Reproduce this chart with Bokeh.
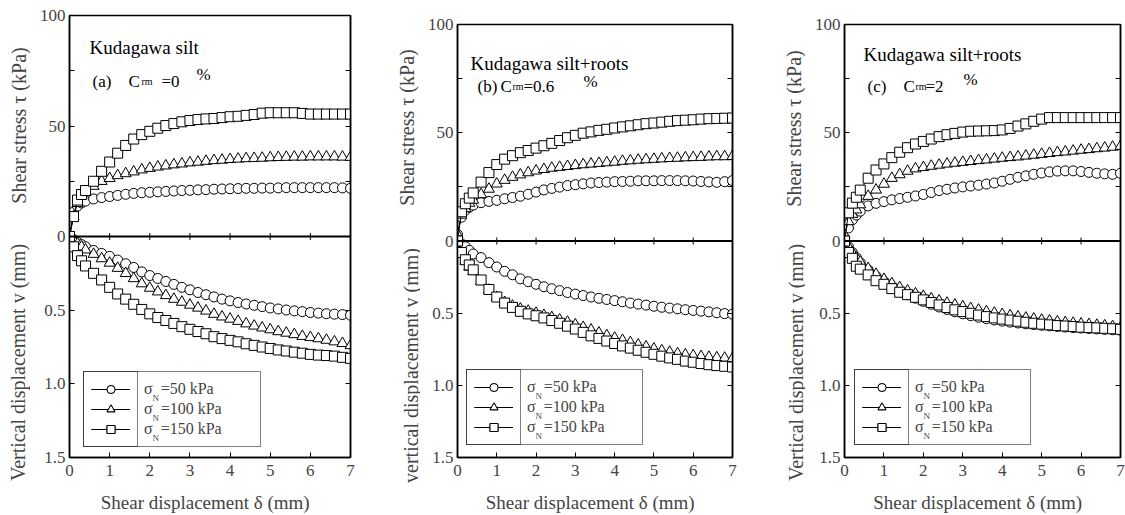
import math
from bokeh.plotting import figure
from bokeh.layouts import row
from bokeh.models import (Range1d, LinearAxis, FixedTicker, CustomJSTickFormatter,
                          Span, Label, Legend, LegendItem)
from bokeh.embed import file_html
from bokeh.resources import INLINE

# ---------------- data ----------------
DELTA = [0, 0.1, 0.2, 0.3, 0.4, 0.6, 0.8, 1.0, 1.2, 1.4, 1.6, 1.8, 2.0, 2.2, 2.4, 2.6, 2.8, 3.0,
         3.2, 3.4, 3.6, 3.8, 4.0, 4.2, 4.4, 4.6, 4.8, 5.0, 5.2, 5.4, 5.6, 5.8, 6.0, 6.2, 6.4, 6.6, 6.8, 7.0]

# (a) Kudagawa silt, Crm = 0 %
A_TAU_50 = [0, 11, 13.8, 15.2, 16, 17, 17.6, 18.1, 18.6, 19.1, 19.5, 19.8, 20, 20.2, 20.4, 20.6, 20.8, 20.9,
            21.1, 21.2, 21.4, 21.5, 21.6, 21.7, 21.8, 21.8, 21.9, 21.9, 22, 22.1, 22.1, 22.1, 22.1, 22.1, 22.1, 22.1, 22, 21.8]
A_TAU_100 = [0, 9, 15, 18.5, 20, 22.8, 25, 26.3, 27.6, 28.5, 29.3, 30.2, 30.9, 31.5, 32, 32.5, 32.9, 33.4,
             33.7, 34.1, 34.4, 34.6, 34.9, 35.1, 35.3, 35.4, 35.5, 35.7, 35.8, 35.9, 36, 36, 36.1, 36.1, 36.1, 36.1, 36, 35.9]
A_TAU_150 = [0, 9, 16.5, 19, 20.8, 25, 29.5, 33.7, 37.7, 41.2, 44.1, 46.1, 47.6, 49, 50.2, 51.1, 51.9, 52.5,
             52.9, 53.2, 53.4, 53.8, 54.2, 54.4, 54.8, 55.2, 55.8, 56, 56, 56, 56, 55.7, 55.4, 55.4, 55.4, 55.4, 55.4, 55.4]
A_V_50 = [0, 0.02, 0.04, 0.055, 0.07, 0.095, 0.115, 0.135, 0.16, 0.185, 0.21, 0.24, 0.265, 0.285, 0.305, 0.325, 0.345, 0.362,
          0.38, 0.395, 0.41, 0.425, 0.437, 0.448, 0.458, 0.467, 0.476, 0.485, 0.492, 0.499, 0.505, 0.51, 0.516, 0.52, 0.524, 0.527, 0.53, 0.534]
A_V_100 = [0, 0.025, 0.05, 0.07, 0.09, 0.12, 0.15, 0.18, 0.215, 0.25, 0.285, 0.32, 0.35, 0.375, 0.4, 0.425, 0.445, 0.465,
           0.485, 0.505, 0.527, 0.545, 0.56, 0.575, 0.592, 0.607, 0.62, 0.632, 0.645, 0.655, 0.665, 0.677, 0.685, 0.693, 0.703, 0.714, 0.725, 0.74]
A_V_150 = [0, 0.07, 0.13, 0.165, 0.2, 0.25, 0.295, 0.345, 0.39, 0.425, 0.46, 0.495, 0.525, 0.55, 0.57, 0.59, 0.612, 0.63,
           0.645, 0.66, 0.68, 0.693, 0.705, 0.715, 0.728, 0.739, 0.75, 0.76, 0.77, 0.777, 0.785, 0.792, 0.8, 0.805, 0.808, 0.812, 0.82, 0.827]

# (b) Kudagawa silt + roots, Crm = 0.6 %
B_TAU_50 = [3, 11, 14.2, 15.6, 16.6, 17.7, 18.3, 18.8, 19.5, 20.1, 20.7, 21.6, 22.6, 23.6, 24.3, 24.9, 25.6, 26,
            26.4, 26.8, 27, 27.2, 27.4, 27.5, 27.6, 27.8, 27.8, 27.8, 27.9, 27.9, 27.9, 27.8, 27.7, 27.5, 27.3, 27.1, 27.4, 27.9]
B_TAU_100 = [3, 12, 15, 17.5, 18.9, 21.5, 24, 26.4, 28.1, 29.5, 30.6, 31.6, 32.4, 33.1, 33.7, 34.1, 34.5, 34.9,
             35.3, 35.6, 35.9, 36.2, 36.5, 36.9, 37.1, 37.4, 37.6, 37.8, 38, 38.2, 38.3, 38.5, 38.6, 38.7, 38.9, 39, 39, 39.1]
B_TAU_150 = [0, 13.5, 17.2, 19.8, 22.2, 27.2, 31.6, 35.3, 37.8, 39.4, 40.8, 41.8, 42.9, 44, 45.1, 46.4, 47.7, 48.8,
             49.8, 50.4, 51.1, 51.6, 52.2, 52.7, 53.2, 53.7, 54.2, 54.5, 54.9, 55.3, 55.6, 55.8, 56, 56.3, 56.5, 56.6, 56.7, 56.8]
B_V_50 = [0, 0.02, 0.04, 0.065, 0.09, 0.115, 0.15, 0.18, 0.21, 0.234, 0.262, 0.282, 0.3, 0.317, 0.331, 0.344, 0.357, 0.368,
          0.378, 0.388, 0.397, 0.405, 0.413, 0.421, 0.43, 0.437, 0.444, 0.452, 0.459, 0.465, 0.47, 0.476, 0.481, 0.486, 0.491, 0.497, 0.503, 0.507]
B_V_100 = [0, 0.09, 0.14, 0.18, 0.21, 0.28, 0.34, 0.39, 0.425, 0.45, 0.47, 0.485, 0.5, 0.515, 0.53, 0.546, 0.562, 0.58,
           0.598, 0.616, 0.636, 0.655, 0.672, 0.688, 0.703, 0.72, 0.733, 0.747, 0.76, 0.77, 0.78, 0.788, 0.794, 0.8, 0.805, 0.808, 0.811, 0.814]
B_V_150 = [0, 0.08, 0.13, 0.166, 0.2, 0.27, 0.336, 0.388, 0.43, 0.46, 0.487, 0.505, 0.518, 0.533, 0.551, 0.57, 0.59, 0.61,
           0.633, 0.657, 0.675, 0.693, 0.71, 0.727, 0.742, 0.757, 0.771, 0.785, 0.798, 0.81, 0.82, 0.832, 0.84, 0.849, 0.857, 0.863, 0.868, 0.873]

# (c) Kudagawa silt + roots, Crm = 2 %
C_TAU_50 = [1.2, 6, 9.8, 12, 13.8, 16.2, 17.4, 18.2, 19, 19.6, 20.2, 20.8, 21.5, 22.4, 23.3, 23.9, 24.5, 25,
            25.4, 25.8, 26.3, 26.8, 27.6, 28.5, 29.4, 30.1, 30.8, 31.4, 31.9, 32.3, 32.4, 32.4, 32.1, 31.7, 31.3, 31, 30.8, 31.3]
C_TAU_100 = [2.8, 9, 12.4, 14.4, 16.8, 20.7, 23.6, 26.3, 29, 30.7, 32.3, 33.4, 34, 34.6, 35.1, 35.6, 36, 36.4,
             36.8, 37.2, 37.5, 37.9, 38.3, 38.6, 38.9, 39.3, 39.7, 40.1, 40.5, 40.9, 41.2, 41.6, 42, 42.3, 42.7, 43, 43.4, 43.8]
C_TAU_150 = [0, 13, 17.5, 20.2, 23.5, 29, 32.8, 35.6, 38.5, 41, 43.1, 44.8, 46, 47.1, 48.2, 49.1, 49.7, 50.3,
             50.7, 50.8, 50.9, 51, 51.3, 52, 53.1, 54.1, 55.3, 56.3, 57, 57, 57, 57, 57, 57, 57, 57, 57, 57]
C_V_50 = [0, 0.04, 0.08, 0.115, 0.15, 0.2, 0.245, 0.28, 0.315, 0.345, 0.372, 0.396, 0.418, 0.438, 0.457, 0.474, 0.49, 0.504,
          0.517, 0.528, 0.538, 0.547, 0.555, 0.562, 0.568, 0.574, 0.579, 0.584, 0.588, 0.592, 0.596, 0.6, 0.603, 0.606, 0.609, 0.612, 0.615, 0.618]
C_V_100 = [0, 0.04, 0.08, 0.115, 0.145, 0.19, 0.23, 0.265, 0.295, 0.322, 0.345, 0.365, 0.383, 0.4, 0.415, 0.43, 0.443, 0.455,
           0.467, 0.478, 0.489, 0.499, 0.508, 0.517, 0.525, 0.533, 0.54, 0.547, 0.553, 0.559, 0.564, 0.569, 0.574, 0.578, 0.583, 0.587, 0.592, 0.6]
C_V_150 = [0, 0.08, 0.12, 0.175, 0.195, 0.235, 0.275, 0.3, 0.33, 0.355, 0.372, 0.39, 0.408, 0.426, 0.443, 0.461, 0.477, 0.489,
           0.501, 0.513, 0.524, 0.533, 0.541, 0.548, 0.556, 0.563, 0.57, 0.576, 0.581, 0.586, 0.589, 0.593, 0.597, 0.6, 0.602, 0.605, 0.608, 0.612]

LEGEND_LABELS = ["\u03c3  =50 kPa", "\u03c3  =100 kPa", "\u03c3  =150 kPa"]
X_TICKS = [0, 1, 2, 3, 4, 5, 6, 7]
TAU_TICKS = [0, 25, 50, 75, 100]
TAU_TICK_LABELS = ["0", "", "50", "", "100"]
V_TICKS = [0.5, 1.0, 1.5]
V_TICK_LABELS = ["0.5", "1.0", "1.5"]
TAU_MAX = 100
V_MAX = 1.5
X_TITLE = "Shear displacement  \u03b4  (mm)"

for s in [A_TAU_50, A_TAU_100, A_TAU_150, A_V_50, A_V_100, A_V_150, B_TAU_50, B_TAU_100, B_TAU_150,
          B_V_50, B_V_100, B_V_150, C_TAU_50, C_TAU_100, C_TAU_150, C_V_50, C_V_100, C_V_150]:
    assert len(s) == len(DELTA)

FONT = "Liberation Serif"
MARKERS = [("circle", 10), ("triangle", 11), ("square", 10)]

PANELS = [
    dict(x0=0, side=30, fl=69, fr=350, ft=15, fb=459,
         tau=[A_TAU_50, A_TAU_100, A_TAU_150], v=[A_V_50, A_V_100, A_V_150],
         title=("Kudagawa silt", 89, 49),
         sub=[("(a)", 92, 83, 17), ("C", 128, 83, 17), ("rm", 141, 83, 10), ("=0", 161, 83, 17), ("%", 196, 76, 17)],
         ytitle1=("Shear stress  \u03c4  (kPa)", 18, 120),
         ytitle2=("Vertical displacement v (mm)", 17, 362),
         leg=(14, 10, 176)),
    dict(x0=375, side=45, fl=457, fr=732, ft=24, fb=461,
         tau=[B_TAU_50, B_TAU_100, B_TAU_150], v=[B_V_50, B_V_100, B_V_150],
         title=("Kudagawa silt+roots", 470, 67),
         sub=[("(b)", 477, 90, 17), ("C", 500, 90, 17), ("rm", 512, 90, 10), ("=0.6", 523, 90, 17), ("%", 583, 85, 17)],
         ytitle1=("Shear stress  \u03c4  (kPa)", 406, 122),
         ytitle2=("vertical displacement v (mm)", 410, 365),
         leg=(9, 12, 175)),
    dict(x0=750, side=55, fl=844, fr=1120, ft=24, fb=461,
         tau=[C_TAU_50, C_TAU_100, C_TAU_150], v=[C_V_50, C_V_100, C_V_150],
         title=("Kudagawa silt+roots", 863, 58),
         sub=[("(c)", 867, 90, 17), ("C", 903, 90, 17), ("rm", 915, 90, 10), ("=2", 925, 90, 17), ("%", 963, 83, 17)],
         ytitle1=("Shear stress  \u03c4  (kPa)", 793, 123),
         ytitle2=("Vertical displacement v (mm)", 795, 362),
         leg=(10, 12, 175)),
]

# left-axis ticks: shear-stress half uses tau units; displacement half is mapped through the two ranges
SCALE = TAU_MAX / V_MAX
Y_TICK_POS = TAU_TICKS + [-v * SCALE for v in V_TICKS]
Y_TICK_LAB = TAU_TICK_LABELS + V_TICK_LABELS


def make_side(cfg):
    w = cfg["side"]
    s = figure(width=w, height=515, x_range=Range1d(0, 1), y_range=Range1d(0, 1),
               x_axis_type=None, y_axis_type=None, min_border=0, min_border_left=0,
               min_border_right=0, min_border_top=0, min_border_bottom=0,
               toolbar_location=None, output_backend="svg", frame_align=False)
    s.outline_line_color = None
    s.xgrid.visible = False
    s.ygrid.visible = False
    x0 = cfg["x0"]
    for key in ("ytitle1", "ytitle2"):
        t, xa, ya = cfg[key]
        s.add_layout(Label(x=xa - x0, y=515 - ya, x_units="screen", y_units="screen", text=t,
                           text_font=FONT, text_font_size="20px", angle=math.pi / 2,
                           text_align="center", text_baseline="middle"))
    return s


def make_panel(cfg):
    fl, fr, ft, fb = cfg["fl"], cfg["fr"], cfg["ft"], cfg["fb"]
    left0 = cfg["x0"] + cfg["side"]
    p = figure(width=375 - cfg["side"], height=515, x_range=Range1d(0, 7), y_range=Range1d(-TAU_MAX, TAU_MAX),
               min_border_left=fl - left0, min_border_right=cfg["x0"] + 375 - fr,
               min_border_top=ft, min_border_bottom=515 - fb,
               toolbar_location=None, output_backend="svg", frame_align=False)
    p.extra_y_ranges = {"v": Range1d(V_MAX, -V_MAX)}
    p.xgrid.visible = False
    p.ygrid.visible = False
    p.outline_line_color = "black"
    p.outline_line_width = 1.5
    p.background_fill_color = "white"
    p.border_fill_color = "white"

    def T(text, xa, ya, size):
        p.add_layout(Label(x=xa - fl, y=fb - ya, x_units="screen", y_units="screen", text=text,
                           text_font=FONT, text_font_size=f"{size}px", text_color="black",
                           text_align="left", text_baseline="alphabetic"))

    # x axis
    xa = p.xaxis[0]
    xa.ticker = FixedTicker(ticks=X_TICKS)
    xa.major_tick_in = 5
    xa.major_tick_out = 0
    xa.minor_tick_line_color = None
    xa.axis_line_width = 1.5
    xa.major_label_text_font = FONT
    xa.major_label_text_font_size = "17px"
    xa.major_label_standoff = 7
    xa.axis_label = X_TITLE
    xa.axis_label_text_font = FONT
    xa.axis_label_text_font_style = "normal"
    xa.axis_label_text_font_size = "19px"
    xa.axis_label_standoff = 13

    # left axis
    ya = p.yaxis[0]
    ya.ticker = FixedTicker(ticks=Y_TICK_POS)
    ya.formatter = CustomJSTickFormatter(args=dict(pos=Y_TICK_POS, labs=Y_TICK_LAB), code="""
        let best = 0;
        for (let i = 0; i < pos.length; i++) {
            if (Math.abs(pos[i] - tick) < Math.abs(pos[best] - tick)) best = i;
        }
        return labs[best];
    """)
    ya.major_tick_in = 5
    ya.major_tick_out = 0
    ya.minor_tick_line_color = None
    ya.axis_line_width = 1.5
    ya.major_label_text_font = FONT
    ya.major_label_text_font_size = "17px"
    ya.major_label_standoff = 4

    # right axis (ticks only)
    ra = LinearAxis(ticker=FixedTicker(ticks=Y_TICK_POS),
                    formatter=CustomJSTickFormatter(code='return "";'),
                    major_tick_in=5, major_tick_out=0, minor_tick_line_color=None,
                    axis_line_width=1.5, major_label_standoff=0,
                    major_label_text_font_size="1px")
    p.add_layout(ra, "right")

    # zero line with ticks
    p.add_layout(Span(location=0, dimension="width", line_color="black", line_width=2))
    p.scatter(X_TICKS[1:-1], [0] * (len(X_TICKS) - 2), marker="dash", angle=math.pi / 2,
              size=7, line_color="black", line_width=1)

    items = []
    for (mk, sz), tau, vv, lab in zip(MARKERS, cfg["tau"], cfg["v"], LEGEND_LABELS):
        ln = p.line(DELTA, tau, line_color="black", line_width=1)
        sc = p.scatter(DELTA, tau, marker=mk, size=sz, fill_color="white", line_color="black", line_width=1)
        p.line(DELTA, vv, y_range_name="v", line_color="black", line_width=1)
        p.scatter(DELTA, vv, y_range_name="v", marker=mk, size=sz, fill_color="white",
                  line_color="black", line_width=1)
        items.append((lab, [ln, sc]))

    lx, by, lw = cfg["leg"]
    pad, gw, gh, std = 7, 39, 20, 14
    legA = Legend(items=[LegendItem(label=l, renderers=r) for l, r in items],
                  location=(lx, by), padding=pad, spacing=0, margin=0,
                  glyph_width=gw, glyph_height=gh, label_height=gh,
                  label_standoff=std, label_width=lw - 2 * pad - gw - std,
                  label_text_font=FONT, label_text_font_size="16px",
                  border_line_color="black", border_line_width=1, background_fill_alpha=0.0)
    legB = Legend(items=[LegendItem(label=" ", renderers=r) for l, r in items],
                  location=(lx, by), padding=pad, spacing=0, margin=0,
                  glyph_width=gw, glyph_height=gh, label_height=gh,
                  label_standoff=0, label_width=0,
                  label_text_font=FONT, label_text_font_size="1px",
                  border_line_color="black", border_line_width=1, background_fill_alpha=0.0)
    p.add_layout(legA)
    p.add_layout(legB)
    H = 2 * pad + 3 * gh
    for i in range(3):
        row_center = by + H - pad - gh / 2 - gh * i
        p.add_layout(Label(x=lx + pad + gw + std + 9, y=row_center - 7, x_units="screen", y_units="screen",
                           text="N", text_font=FONT, text_font_size="9px", text_baseline="alphabetic"))

    # panel texts
    t, tx, ty = cfg["title"]
    T(t, tx, ty, 19)
    for s, sx, sy, fs in cfg["sub"]:
        T(s, sx, sy, fs)
    return p


figs = []
for c in PANELS:
    figs.append(make_side(c))
    figs.append(make_panel(c))
layout = row(*figs, spacing=0)
open("out.html", "w").write(file_html(layout, INLINE))
